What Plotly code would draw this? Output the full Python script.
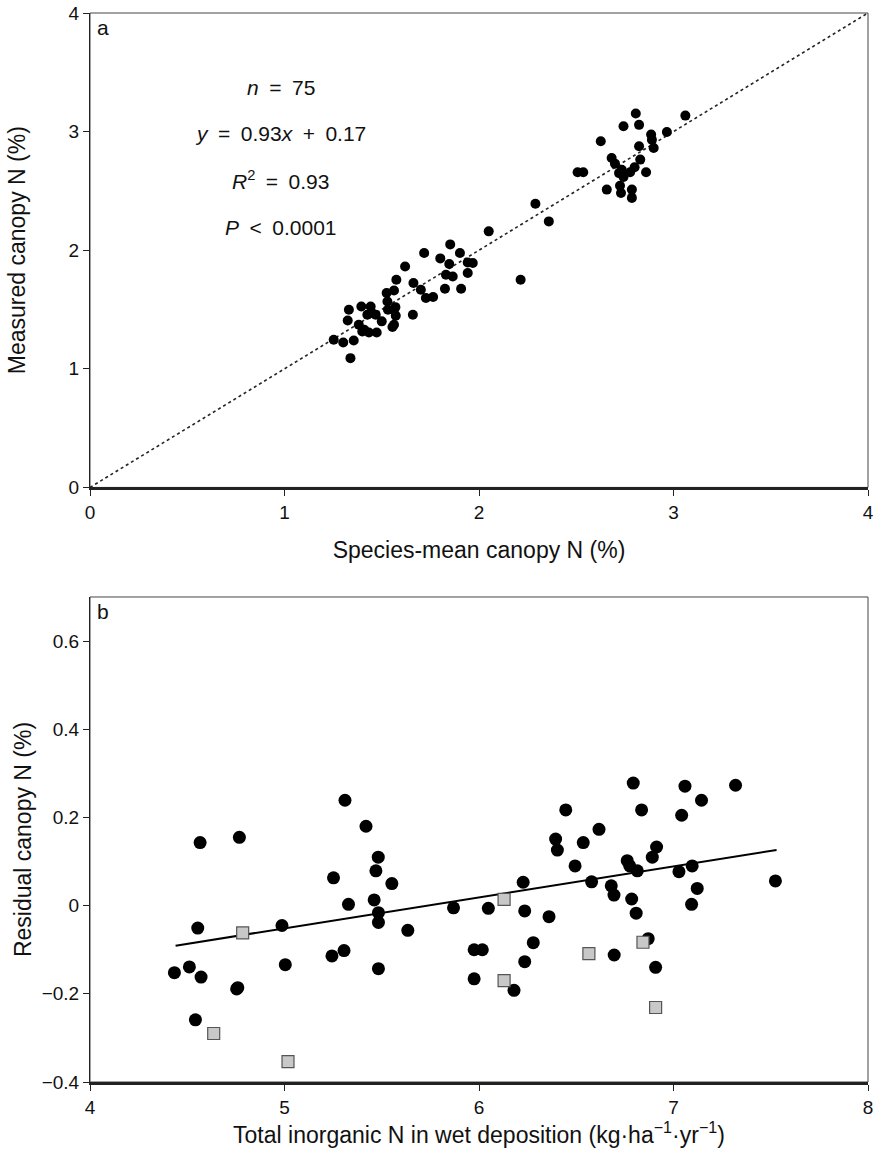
import plotly.graph_objects as go

# ---------------- Panel a data ----------------
a_species_mean = [
    1.852, 1.718, 1.902, 1.801, 1.847, 1.942, 1.968, 1.620, 1.830, 1.865,
    1.942, 2.214, 1.575, 1.663, 1.563, 1.525, 1.701, 1.825, 1.908, 1.727,
    1.764, 1.529, 1.331, 1.395, 1.443, 1.532, 1.563, 1.426, 1.469, 1.572,
    1.660, 1.325, 1.382, 1.563, 1.555, 1.400, 1.434, 1.474, 1.253, 1.302,
    1.356, 1.339,
    2.806, 3.061, 2.743, 2.823, 2.885, 2.966, 2.626, 2.889, 2.823, 2.898,
    2.682, 2.829, 2.699, 2.507, 2.536, 2.734, 2.777, 2.859, 2.743, 2.657,
    2.725, 2.786, 2.730, 2.786,
    2.050, 2.290, 2.359,
    1.450, 1.500, 1.570, 2.720, 2.800, 1.410,
]
a_measured = [
    2.049, 1.976, 1.976, 1.931, 1.884, 1.897, 1.892, 1.863, 1.793, 1.779,
    1.808, 1.751, 1.751, 1.723, 1.661, 1.639, 1.667, 1.675, 1.675, 1.597,
    1.605, 1.568, 1.498, 1.526, 1.526, 1.498, 1.498, 1.456, 1.456, 1.447,
    1.456, 1.408, 1.371, 1.371, 1.352, 1.315, 1.306, 1.306, 1.245, 1.222,
    1.239, 1.090,
    3.152, 3.135, 3.045, 3.057, 2.975, 2.997, 2.918, 2.932, 2.876, 2.862,
    2.778, 2.764, 2.730, 2.657, 2.657, 2.679, 2.657, 2.657, 2.618, 2.511,
    2.544, 2.511, 2.483, 2.441,
    2.159, 2.392, 2.243,
    1.470, 1.400, 1.520, 2.650, 2.700, 1.330,
]
one_to_one = [0, 4]

SP = "&#8194;"  # en space, mimics math spacing around operators
stats_lines = [
    f"<i>n</i>{SP}={SP}75",
    f"<i>y</i>{SP}={SP}0.93<i>x</i>{SP}+{SP}0.17",
    f"<i>R</i><sup>2</sup>{SP}={SP}0.93",
    f"<i>P</i>{SP}&lt;{SP}0.0001",
]
stats_y = [3.37, 2.98, 2.59, 2.19]

# ---------------- Panel b data ----------------
b_dep_circles = [
    5.311, 5.419, 4.566, 4.768, 5.482, 5.470, 5.252, 5.552, 5.461, 5.329,
    5.483, 5.483, 4.554, 4.987, 5.634, 5.244, 5.306, 5.004, 5.483, 4.434,
    4.511, 4.571, 4.754, 4.542, 5.869, 6.048, 6.227, 6.235, 5.975, 6.017,
    6.279, 6.235, 5.975, 6.180, 6.360,
    6.793, 7.059, 7.319, 7.144, 6.446, 6.836, 7.042, 6.617, 6.394, 6.536,
    6.403, 6.913, 6.891, 6.762, 6.775, 6.494, 6.814, 7.096, 7.028, 7.524,
    6.579, 6.680, 6.694, 7.122, 7.093, 6.785, 6.808, 6.695, 6.870, 6.908,
    4.760,
]
b_resid_circles = [
    0.239, 0.180, 0.143, 0.155, 0.110, 0.079, 0.063, 0.050, 0.013, 0.003,
    -0.016, -0.038, -0.051, -0.045, -0.056, -0.114, -0.102, -0.134, -0.143, -0.152,
    -0.139, -0.162, -0.189, -0.259, -0.005, -0.006, 0.053, -0.012, -0.100, -0.100,
    -0.084, -0.127, -0.166, -0.192, -0.025,
    0.278, 0.271, 0.273, 0.239, 0.217, 0.217, 0.205, 0.173, 0.151, 0.143,
    0.126, 0.133, 0.110, 0.102, 0.090, 0.090, 0.079, 0.090, 0.077, 0.056,
    0.054, 0.045, 0.024, 0.039, 0.003, 0.015, -0.017, -0.112, -0.075, -0.140,
    -0.186,
]
b_dep_squares = [4.785, 4.636, 5.018, 6.129, 6.129, 6.565, 6.843, 6.908]
b_resid_squares = [-0.062, -0.290, -0.354, 0.014, -0.170, -0.109, -0.083, -0.231]

fit_slope = 0.0703
fit_intercept = -0.403
fit_x = [4.44, 7.53]
fit_y = [fit_intercept + fit_slope * v for v in fit_x]

FONT = "Liberation Sans, Arial, Helvetica, sans-serif"

fig = go.Figure()

fig.add_trace(go.Scatter(
    x=one_to_one, y=one_to_one, mode="lines",
    line=dict(color="#222222", width=1.6, dash="dot"),
    xaxis="x", yaxis="y", showlegend=False, hoverinfo="skip"))
fig.add_trace(go.Scatter(
    x=a_species_mean, y=a_measured, mode="markers",
    marker=dict(color="black", size=10, line=dict(width=0)),
    xaxis="x", yaxis="y", showlegend=False))

fig.add_trace(go.Scatter(
    x=fit_x, y=fit_y, mode="lines",
    line=dict(color="black", width=2),
    xaxis="x2", yaxis="y2", showlegend=False, hoverinfo="skip"))
fig.add_trace(go.Scatter(
    x=b_dep_circles, y=b_resid_circles, mode="markers",
    marker=dict(color="black", size=13, line=dict(width=0)),
    xaxis="x2", yaxis="y2", showlegend=False))
fig.add_trace(go.Scatter(
    x=b_dep_squares, y=b_resid_squares, mode="markers",
    marker=dict(symbol="square", color="#c8c8c8", size=12,
                line=dict(color="#555555", width=1.2)),
    xaxis="x2", yaxis="y2", showlegend=False))

axis_common = dict(
    showgrid=False, zeroline=False, ticks="outside", ticklen=6,
    tickcolor="#222", tickwidth=1,
    tickfont=dict(family=FONT, size=19, color="#111"),
    title_font=dict(family=FONT, size=23, color="#111"),
    automargin=False,
)

fig.update_layout(
    width=875, height=1151,
    margin=dict(l=90, r=7, t=13, b=69),
    paper_bgcolor="white", plot_bgcolor="white",
    font=dict(family=FONT, color="#111"),
    xaxis=dict(domain=[0, 1], range=[0, 4], tickvals=[0, 1, 2, 3, 4],
               showline=True, linecolor="#222", linewidth=2.5,
               anchor="y", title=dict(text="Species-mean canopy N (%)", standoff=20),
               **axis_common),
    yaxis=dict(domain=[0.5562, 1], range=[0, 4], tickvals=[0, 1, 2, 3, 4],
               showline=True, linecolor="#222", linewidth=1,
               anchor="x", title=dict(text="Measured canopy N (%)", standoff=36),
               **axis_common),
    xaxis2=dict(domain=[0, 1], range=[4, 8], tickvals=[4, 5, 6, 7, 8],
                showline=True, linecolor="#222", linewidth=2.5,
                anchor="y2",
                title=dict(text="Total inorganic N in wet deposition (kg·ha<sup>−1</sup>·yr<sup>−1</sup>)", standoff=11),
                **axis_common),
    yaxis2=dict(domain=[0, 0.4537], range=[-0.4, 0.7],
                tickvals=[-0.4, -0.2, 0, 0.2, 0.4, 0.6],
                ticktext=["−0.4", "−0.2", "0", "0.2", "0.4", "0.6"],
                showline=True, linecolor="#222", linewidth=1,
                anchor="x2", title=dict(text="Residual canopy N (%)", standoff=3),
                **axis_common),
    shapes=[
        dict(type="rect", xref="x domain", yref="y domain", x0=0, x1=1, y0=0, y1=1,
             line=dict(color="#444", width=1), layer="below"),
        dict(type="rect", xref="x2 domain", yref="y2 domain", x0=0, x1=1, y0=0, y1=1,
             line=dict(color="#444", width=1), layer="below"),
    ],
)

for txt, yy in zip(stats_lines, stats_y):
    fig.add_annotation(x=0.98, y=yy, xref="x", yref="y", text=txt, showarrow=False,
                       font=dict(family=FONT, size=21, color="#111"),
                       xanchor="center", yanchor="middle")

fig.add_annotation(x=0.006, y=0.997, xref="x domain", yref="y domain", text="a",
                   showarrow=False, xanchor="left", yanchor="top",
                   font=dict(family=FONT, size=21, color="#111"))
fig.add_annotation(x=0.006, y=0.997, xref="x2 domain", yref="y2 domain", text="b",
                   showarrow=False, xanchor="left", yanchor="top",
                   font=dict(family=FONT, size=21, color="#111"))

fig.write_html("out.html", config={"displayModeBar": False},
               post_script="document.body.style.margin='0px';")
